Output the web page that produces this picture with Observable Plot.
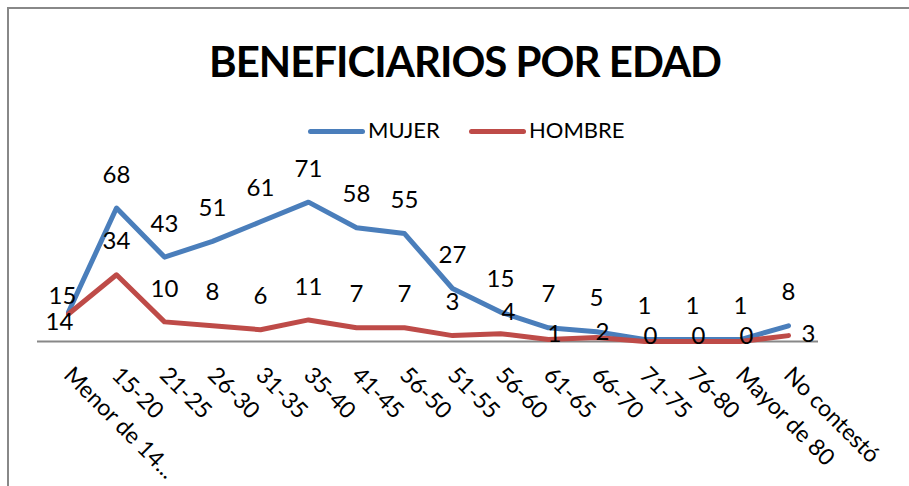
<!DOCTYPE html>
<html><head><meta charset="utf-8">
<script src="https://cdn.jsdelivr.net/npm/d3@7"></script>
<script src="https://cdn.jsdelivr.net/npm/@observablehq/plot@0.6"></script>
<style>
html,body{margin:0;padding:0;background:#fff;}
#chart{position:relative;width:909px;height:486px;overflow:hidden;font-family:Lato,sans-serif;color:#000;}
#frame{position:absolute;left:7px;top:7px;right:0;bottom:0;border-top:2px solid #888;border-left:2px solid #888;pointer-events:none;}
#header{position:relative;height:160px;}
#title{position:absolute;left:465px;top:40px;transform:translateX(-50%);white-space:nowrap;font-weight:700;font-size:42px;line-height:1;letter-spacing:-1px;}
.lg-line{position:absolute;height:5px;border-radius:3px;}
.lg-text{position:absolute;font-size:22px;line-height:1;white-space:nowrap;}
#plot svg{display:block;}
</style></head><body>
<div id="chart"><div id="frame"></div><div id="header"><div id="title"></div><div id="legend"></div></div><div id="plot"></div></div>
<script>
const title = "BENEFICIARIOS POR EDAD";
const categories = ["Menor de 14...", "15-20", "21-25", "26-30", "31-35", "35-40", "41-45", "56-50", "51-55", "56-60", "61-65", "66-70", "71-75", "76-80", "Mayor de 80", "No contestó"];
const seriesNames = ["MUJER", "HOMBRE"];
const mujer = [15, 68, 43, 51, 61, 71, 58, 55, 27, 15, 7, 5, 1, 1, 1, 8];
const hombre = [14, 34, 10, 8, 6, 11, 7, 7, 3, 4, 1, 2, 0, 0, 0, 3];
// label placement keywords (like Excel's data label position)
const mujerLabelPlacement = ["left", "above", "above", "above", "above", "above", "above", "above", "above", "above", "above", "above", "above", "above", "above", "above"];
const hombreLabelPlacement = ["below", "above", "above", "above", "above", "above", "above", "above", "above", "near", "center", "center", "center", "center", "center", "right"];
const colors = ["#4A7EBB", "#BE4B48"];

document.getElementById("title").textContent = title;

// legend
const legend = document.getElementById("legend");
const legendX = [308, 469];
seriesNames.forEach((name, i) => {
  const ln = document.createElement("div");
  ln.className = "lg-line";
  ln.style.left = legendX[i] + "px";
  ln.style.top = "128.5px";
  ln.style.width = "57px";
  ln.style.background = colors[i];
  legend.appendChild(ln);
  const tx = document.createElement("div");
  tx.className = "lg-text";
  tx.style.left = (legendX[i] + 60) + "px";
  tx.style.top = "118.5px";
  tx.textContent = name;
  legend.appendChild(tx);
});

const rows = [];
categories.forEach((c, i) => {
  rows.push({series: "MUJER", cat: c, value: mujer[i], place: mujerLabelPlacement[i]});
});
categories.forEach((c, i) => {
  rows.push({series: "HOMBRE", cat: c, value: hombre[i], place: hombreLabelPlacement[i]});
});

const offsets = {above: [0, -33], left: [-6, -16], below: [-9, 8], near: [8, -21], center: [6, -5], right: [20, -1]};
const labelMarks = Object.entries(offsets).map(([k, [dx, dy]]) =>
  Plot.text(rows.filter(r => r.place === k), {x: "cat", y: "value", text: d => String(d.value), dx, dy, fontSize: 24, fill: "#000"})
);

const chart = Plot.plot({
  width: 909, height: 326,
  marginLeft: 37, marginRight: 91, marginTop: 24, marginBottom: 145,
  x: {type: "point", domain: categories, padding: 0.5, axis: null},
  y: {domain: [0, 80], axis: null},
  style: {fontFamily: "Lato, sans-serif", background: "transparent", overflow: "visible"},
  marks: [
    Plot.ruleY([0], {stroke: "#888", strokeWidth: 2}),
    Plot.line(rows.filter(r => r.series === "MUJER"), {x: "cat", y: "value", stroke: colors[0], strokeWidth: 5, strokeLinejoin: "round", strokeLinecap: "round"}),
    Plot.line(rows.filter(r => r.series === "HOMBRE"), {x: "cat", y: "value", stroke: colors[1], strokeWidth: 5, strokeLinejoin: "round", strokeLinecap: "round"}),
    ...labelMarks,
    Plot.text(categories, {x: d => d, frameAnchor: "bottom", rotate: 45, textAnchor: "start", lineAnchor: "bottom", dx: -6, dy: 35, fontSize: 23, fill: "#000"})
  ]
});
document.getElementById("plot").appendChild(chart);
</script>
</body></html>
